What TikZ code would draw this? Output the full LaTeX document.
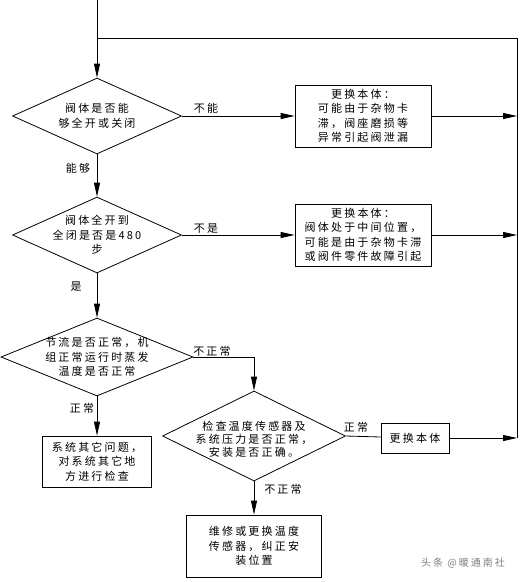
\documentclass[tikz,border=0pt]{standalone}
\usepackage{fontspec}
\newfontfamily\cjk[LetterSpace=20]{Noto Sans CJK SC}
\usetikzlibrary{shapes.geometric,arrows.meta}

\begin{document}
\begin{tikzpicture}[x=1pt,y=-1pt,line width=0.8pt,
	every node/.style={font=\cjk\fontsize{11}{14.5}\selectfont},
	dec/.style={draw,diamond,inner sep=0pt},
	box/.style={draw,rectangle,inner sep=0pt,align=center},
	txt/.style={align=center,inner sep=0pt},
	lbl/.style={inner sep=0pt},
	arr/.style={-{Triangle[length=14pt,width=6pt]}}]
	\useasboundingbox (0,0) rectangle (523,582);
	% decisions
	\node[dec,minimum width=169pt,minimum height=76pt] (q1) at (97,116) {};
	\node[txt] (q1t) at (q1) {阀体是否能\\够全开或关闭};
	\node[dec,minimum width=169pt,minimum height=76pt] (q2) at (97,235) {};
	\node[txt] (q2t) at (q2) {阀体全开到\\全闭是否是480\\步};
	\node[dec,minimum width=192pt,minimum height=78pt] (q3) at (97,357) {};
	\node[txt] (q3t) at (q3) {节流是否正常，机\\组正常运行时蒸发\\温度是否正常};
	\node[dec,minimum width=183pt,minimum height=90pt] (q4) at (254,436) {};
	\node[txt,font=\cjk\fontsize{11}{13}\selectfont] (q4t) at (254,439) {检查温度传感器及\\系统压力是否正常，\\安装是否正确。};
	% boxes
	\node[box,minimum width=136pt,minimum height=62pt] (b1) at (363,116) {更换本体：\\可能由于杂物卡\\滞，阀座磨损等\\异常引起阀泄漏};
	\node[box,minimum width=136pt,minimum height=62pt] (b2) at (363,235) {更换本体：\\阀体处于中间位置，\\可能是由于杂物卡滞\\或阀件零件故障引起};
	\node[box,minimum width=109pt,minimum height=51pt] (b3) at (97,461.5) {系统其它问题，\\对系统其它地\\方进行检查};
	\node[box,minimum width=68pt,minimum height=30pt] (b4) at (415,438) {更换本体};
	\node[box,minimum width=135pt,minimum height=62pt] (b5) at (254,546) {维修或更换温度\\传感器，纠正安\\装位置};
	% labels
	\node[lbl] (l1) at (206,108) {不能};
	\node[lbl] (l2) at (78,168) {能够};
	\node[lbl] (l3) at (206,229) {不是};
	\node[lbl] (l4) at (76,287) {是};
	\node[lbl] (l5) at (212,351) {不正常};
	\node[lbl] (l6) at (82,408) {正常};
	\node[lbl] (l7) at (356,427) {正常};
	\node[lbl] (l8) at (283,489) {不正常};
	\node[lbl,text=gray,font=\cjk\fontsize{10}{12}\selectfont] (wm) at (463,563) {头条 @暖通南社};
	% loop line
	\coordinate (top) at (97,0);
	\coordinate (loop) at (97,38);
	\coordinate (rtop) at (517,38);
	\coordinate (rbot) at (517,438);
	\draw[arr] (top) -- (q1);
	\draw (loop) -- (rtop) -- (rbot);
	% connectors
	\draw[arr] (q1) -- (b1);
	\draw[arr] (b1) -- (b1 -| rbot);
	\draw[arr] (q1) -- (q2);
	\draw[arr] (q2) -- (b2);
	\draw[arr] (b2) -- (b2 -| rbot);
	\draw[arr] (q2) -- (q3);
	\draw[arr] (q3.east) -| (q4.north);
	\draw[arr] (q3) -- (b3);
	\draw (q4.east) -- (b4);
	\draw[arr] (b4) -- (b4 -| rbot);
	\draw[arr] (q4) -- (b5);
\end{tikzpicture}
\end{document}
